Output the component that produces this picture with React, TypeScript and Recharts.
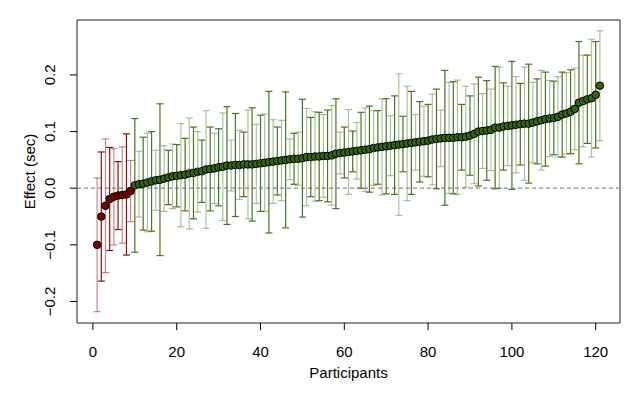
import React from 'react';
import {
  ComposedChart,
  Scatter,
  ErrorBar,
  XAxis,
  YAxis,
  ReferenceLine,
  ReferenceArea,
} from 'recharts';

// Per-participant effect estimates, sorted ascending (sec)
const effect = [
  -0.100, -0.050, -0.031, -0.019, -0.015, -0.013, -0.012, -0.011, -0.005, 0.005,
  0.007, 0.008, 0.010, 0.012, 0.014, 0.015, 0.017, 0.019, 0.021, 0.022,
  0.023, 0.024, 0.026, 0.027, 0.029, 0.030, 0.033, 0.034, 0.035, 0.037,
  0.038, 0.040, 0.040, 0.041, 0.041, 0.042, 0.042, 0.042, 0.043, 0.044,
  0.045, 0.046, 0.047, 0.048, 0.049, 0.050, 0.051, 0.052, 0.052, 0.053,
  0.055, 0.055, 0.056, 0.056, 0.057, 0.057, 0.058, 0.061, 0.062, 0.063,
  0.064, 0.065, 0.066, 0.067, 0.068, 0.069, 0.071, 0.072, 0.073, 0.074,
  0.075, 0.076, 0.077, 0.078, 0.079, 0.080, 0.081, 0.082, 0.083, 0.084,
  0.086, 0.087, 0.088, 0.089, 0.089, 0.089, 0.090, 0.090, 0.091, 0.093,
  0.096, 0.100, 0.101, 0.102, 0.103, 0.107, 0.107, 0.109, 0.110, 0.111,
  0.112, 0.113, 0.114, 0.114, 0.116, 0.118, 0.120, 0.122, 0.123, 0.124,
  0.126, 0.130, 0.132, 0.135, 0.140, 0.151, 0.154, 0.157, 0.159, 0.165,
  0.181,
];

// Half-width of each participant's interval (sec)
const ciHalf = [
  0.118, 0.114, 0.118, 0.091, 0.085, 0.060, 0.085, 0.107, 0.054, 0.118,
  0.058, 0.082, 0.087, 0.088, 0.053, 0.134, 0.058, 0.048, 0.057, 0.055,
  0.091, 0.064, 0.098, 0.081, 0.071, 0.055, 0.104, 0.074, 0.062, 0.068,
  0.095, 0.104, 0.045, 0.091, 0.061, 0.057, 0.096, 0.100, 0.070, 0.085,
  0.086, 0.125, 0.074, 0.060, 0.071, 0.120, 0.036, 0.045, 0.047, 0.104,
  0.086, 0.070, 0.079, 0.078, 0.073, 0.081, 0.088, 0.097, 0.037, 0.045,
  0.075, 0.036, 0.050, 0.067, 0.074, 0.076, 0.066, 0.065, 0.085, 0.084,
  0.053, 0.087, 0.125, 0.049, 0.101, 0.091, 0.049, 0.071, 0.062, 0.064,
  0.080, 0.088, 0.050, 0.119, 0.098, 0.099, 0.101, 0.058, 0.089, 0.070,
  0.088, 0.096, 0.066, 0.088, 0.072, 0.108, 0.107, 0.077, 0.070, 0.113,
  0.085, 0.072, 0.100, 0.105, 0.071, 0.075, 0.088, 0.083, 0.067, 0.065,
  0.071, 0.075, 0.072, 0.074, 0.072, 0.108, 0.081, 0.078, 0.104, 0.094,
  0.097,
];

const xTicks = [0, 20, 40, 60, 80, 100, 120];
const yTicks = [-0.2, -0.1, 0, 0.1, 0.2];

const X_DOMAIN: [number, number] = [-3.8, 125.8];
const Y_DOMAIN: [number, number] = [-0.238, 0.297];

const FONT = '"Liberation Sans", Arial, Helvetica, sans-serif';

const points = effect.map((y, i) => ({ x: i + 1, y, err: ciHalf[i] }));

// bars are split by sign and drawn alternately strong / faint
const barGroups = [
  { data: points.filter((p, i) => p.y < 0 && i % 2 === 0), stroke: 'rgba(160,60,60,0.6)' },
  { data: points.filter((p, i) => p.y < 0 && i % 2 === 1), stroke: '#8b1010' },
  { data: points.filter((p, i) => p.y >= 0 && i % 2 === 0), stroke: 'rgba(90,135,60,0.5)' },
  { data: points.filter((p, i) => p.y >= 0 && i % 2 === 1), stroke: '#467521' },
];

const fmt = (v: number) => {
  const s = v.toFixed(1);
  return s.startsWith('-') ? '\u2212' + s.slice(1) : s;
};

const YTick = ({ y, payload }: any) => (
  <text
    transform={`translate(55, ${y}) rotate(-90)`}
    textAnchor="middle"
    fontSize={15}
    fontFamily={FONT}
    fill="#000"
  >
    {fmt(payload.value)}
  </text>
);

const Dot = (props: any) => {
  const { cx, cy, payload } = props;
  return (
    <circle
      cx={cx}
      cy={cy}
      r={3.8}
      fill={payload.y < 0 ? '#7a0000' : '#356312'}
      stroke="#000"
      strokeWidth={1}
    />
  );
};

const Nothing = () => <g />;

export default function App() {
  return (
    <div style={{ position: 'absolute', left: 0, top: 0, background: '#fff' }}>
      <ComposedChart
        width={640}
        height={400}
        margin={{ top: 20, right: 20, bottom: 0, left: 0 }}
      >
        <XAxis
          type="number"
          dataKey="x"
          domain={X_DOMAIN}
          ticks={xTicks}
          allowDataOverflow
          axisLine={false}
          tickSize={7}
          tickMargin={16}
          tickLine={{ stroke: '#000' }}
          tick={{ fontSize: 15, fontFamily: FONT, fill: '#000' }}
          height={77}
          label={() => (
            <text x={348.5} y={378} textAnchor="middle" fontSize={15} fontFamily={FONT} fill="#000">
              Participants
            </text>
          )}
        />
        <YAxis
          type="number"
          dataKey="y"
          domain={Y_DOMAIN}
          ticks={yTicks}
          allowDataOverflow
          axisLine={false}
          tickSize={7}
          tickLine={{ stroke: '#000' }}
          tick={<YTick />}
          width={77}
          label={() => (
            <text
              transform="translate(35, 171.5) rotate(-90)"
              textAnchor="middle"
              fontSize={15}
              fontFamily={FONT}
              fill="#000"
            >
              Effect (sec)
            </text>
          )}
        />
        <ReferenceArea
          x1={X_DOMAIN[0]}
          x2={X_DOMAIN[1]}
          y1={Y_DOMAIN[0]}
          y2={Y_DOMAIN[1]}
          fill="none"
          stroke="#222"
          strokeWidth={1}
          ifOverflow="visible"
        />
        <ReferenceLine y={0} stroke="#8a8a8a" strokeWidth={1.2} strokeDasharray="4 3" />
        {barGroups.map((g, k) => (
          <Scatter key={k} data={g.data} shape={<Nothing />} isAnimationActive={false}>
            <ErrorBar
              dataKey="err"
              direction="y"
              width={3.5}
              stroke={g.stroke}
              strokeWidth={1.2}
              isAnimationActive={false}
            />
          </Scatter>
        ))}
        <Scatter data={points} shape={<Dot />} isAnimationActive={false} />
      </ComposedChart>
    </div>
  );
}
